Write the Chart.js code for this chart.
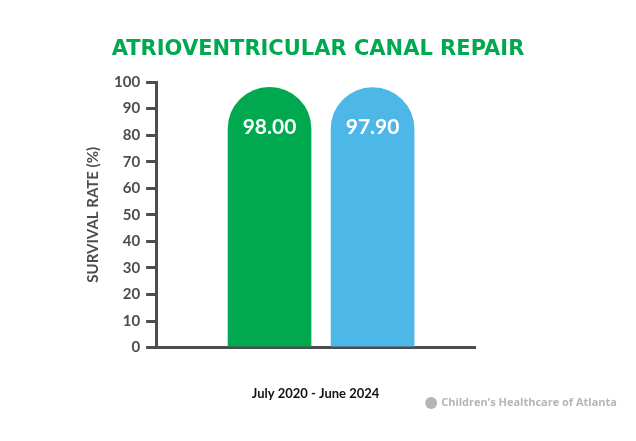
<!DOCTYPE html>
<html><head><meta charset="utf-8">
<script src="https://cdn.jsdelivr.net/npm/chart.js@4"></script>
<style>html,body{margin:0;padding:0;background:#fff}#w{width:636px;height:441px}</style>
</head><body><div id="w"><canvas id="c"></canvas></div>
<script>
const categories = ["Children\u2019s data", "STS benchmark"];
const values = [98.00, 97.90];
const barColors = ["#00a94f", "#4db8e8"];
const yTicks = [0,10,20,30,40,50,60,70,80,90,100];
const titleText = "ATRIOVENTRICULAR CANAL REPAIR";
const periodText = "July 2020 - June 2024";
const logoText = "Children\u2019s Healthcare of Atlanta";

const extras = {
  id:'extras',
  afterDatasetsDraw(chart){
    const ctx=chart.ctx, meta=chart.getDatasetMeta(0);
    ctx.save();ctx.fillStyle='#fff';ctx.font='bold 21px Lato, "Open Sans", sans-serif';
    ctx.textAlign='center';ctx.textBaseline='middle';
    meta.data.forEach((b,i)=>ctx.fillText(values[i].toFixed(2),b.x,b.y+40));
    ctx.restore();
  },
  afterDraw(chart){
    const ctx=chart.ctx;ctx.save();
    ctx.fillStyle='#00a94f';ctx.font='bold 21px "DejaVu Sans", sans-serif';
    ctx.textAlign='center';ctx.textBaseline='middle';
    ctx.fillText(titleText,318,50);
    ctx.fillStyle='#b5b5b5';ctx.font='bold 11px "Open Sans", sans-serif';
    ctx.textAlign='right';
    ctx.fillText(logoText,617,403);
    const w=ctx.measureText(logoText).width;
    ctx.beginPath();ctx.arc(617-w-10,403,6,0,Math.PI*2);ctx.fill();
    ctx.restore();
  }
};

new Chart(document.getElementById('c'),{
  type:'bar',
  data:{datasets:[{
    data: values.map((v,i)=>({x:i,y:v})),
    backgroundColor: barColors,
    barThickness:83,
    borderRadius:{topLeft:42,topRight:42,bottomLeft:0,bottomRight:0},
    borderSkipped:false
  }]},
  options:{
    responsive:true,maintainAspectRatio:false,animation:false,
    layout:{padding:{top:82,left:80,right:161,bottom:35}},
    plugins:{legend:{display:false},tooltip:{enabled:false},title:{display:false}},
    scales:{
      x:{type:'linear',min:-0.714,max:1.607,bounds:'data',
        ticks:{stepSize:1,callback:(v)=>(Number.isInteger(v)&&categories[v])?categories[v]:'',
          color:(c)=>barColors[c.tick.value]||'#000',
          font:{size:14,weight:'bold',family:'Lato, "Open Sans", sans-serif'},padding:8,maxRotation:0,autoSkip:false},
        grid:{display:false,drawTicks:false},
        border:{color:'#4d4d4f',width:3},
        title:{display:true,text:periodText,color:'#111',
          font:{size:13,weight:'bold',family:'Lato, "Open Sans", sans-serif'},padding:{top:6}}},
      y:{min:0,max:100,
        afterBuildTicks:(s)=>{s.ticks=yTicks.map(v=>({value:v}));},
        ticks:{color:'#4d4d4f',font:{size:15,weight:'bold',family:'Lato, "Open Sans", sans-serif'},padding:6},
        grid:{drawOnChartArea:false,drawTicks:true,tickLength:10,color:'#4d4d4f',lineWidth:3},
        border:{color:'#4d4d4f',width:3},
        title:{display:true,text:'SURVIVAL RATE (%)',color:'#4d4d4f',
          font:{size:15,weight:'bold',family:'Lato, "Open Sans", sans-serif'},padding:{bottom:6}}}
    }
  },
  plugins:[extras]
});
</script></body></html>
